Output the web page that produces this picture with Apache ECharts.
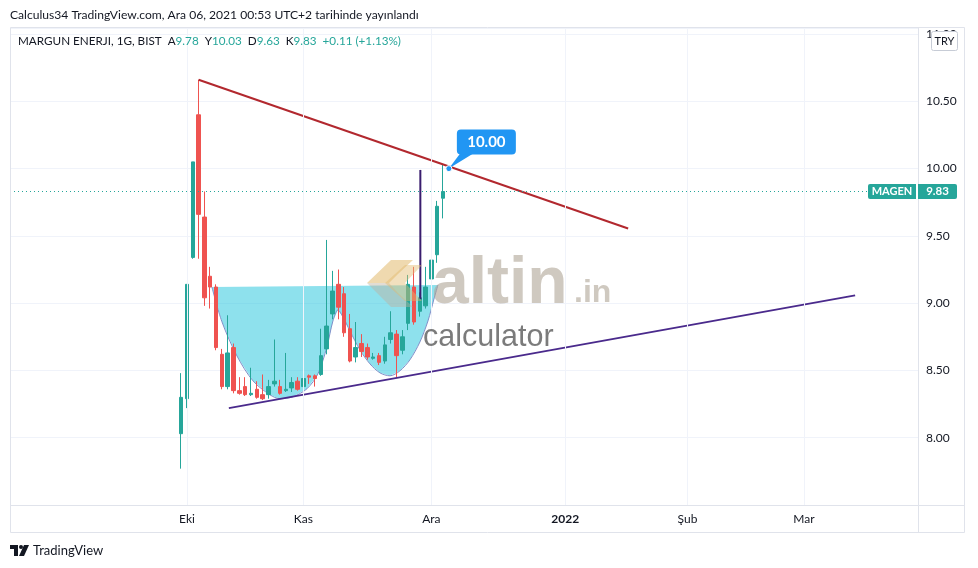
<!DOCTYPE html>
<html><head><meta charset="utf-8">
<script src="https://cdn.jsdelivr.net/npm/echarts@6/dist/echarts.min.js"></script>
<style>html,body{margin:0;padding:0;background:#fff}#c{width:978px;height:568px}</style>
</head><body><div id="c"></div>
<script>
// ---------- data ----------
const dates = ['2021-09-30','2021-10-01','2021-10-04','2021-10-05','2021-10-06','2021-10-07','2021-10-08','2021-10-11','2021-10-12','2021-10-13','2021-10-14','2021-10-15','2021-10-18','2021-10-19','2021-10-20','2021-10-21','2021-10-22','2021-10-25','2021-10-26','2021-10-27','2021-10-28','2021-11-01','2021-11-02','2021-11-03','2021-11-04','2021-11-05','2021-11-08','2021-11-09','2021-11-10','2021-11-11','2021-11-12','2021-11-15','2021-11-16','2021-11-17','2021-11-18','2021-11-19','2021-11-22','2021-11-23','2021-11-24','2021-11-25','2021-11-26','2021-11-29','2021-11-30','2021-12-01','2021-12-02','2021-12-03'];
const openV  = [8.03,8.29,9.34,10.40,9.64,9.20,9.12,8.62,8.38,8.67,8.35,8.38,8.32,8.36,8.32,8.32,8.40,8.38,8.35,8.37,8.42,8.38,8.46,8.46,8.47,8.66,8.92,9.14,9.07,8.81,8.60,8.70,8.67,8.59,8.61,8.57,8.73,8.77,8.65,8.85,9.12,8.94,8.98,9.18,9.36,9.78];
const closeV = [8.30,9.14,10.05,9.66,9.04,9.12,8.67,8.38,8.63,8.35,8.33,8.32,8.33,8.30,8.29,8.38,8.42,8.33,8.36,8.41,8.36,8.44,8.45,8.44,8.61,8.83,9.09,8.97,8.78,8.57,8.67,8.64,8.60,8.60,8.56,8.69,8.78,8.61,8.75,9.14,8.86,9.04,9.12,9.32,9.72,9.83];
const lowV   = [7.77,8.22,9.33,9.33,8.98,8.96,8.65,8.36,8.36,8.33,8.32,8.31,8.31,8.29,8.28,8.29,8.38,8.32,8.34,8.34,8.35,8.33,8.40,8.38,8.46,8.62,8.88,8.88,8.75,8.56,8.56,8.60,8.58,8.58,8.54,8.55,8.70,8.45,8.62,8.80,8.84,8.90,8.96,9.16,9.30,9.63];
const highV  = [8.48,9.14,10.05,10.66,9.83,9.27,9.14,8.66,8.91,8.70,8.45,8.45,8.52,8.42,8.47,8.43,8.73,8.43,8.63,8.45,8.45,8.52,8.47,8.47,8.81,9.47,9.24,9.25,9.12,8.92,8.86,8.77,8.70,8.63,8.63,8.75,8.94,8.80,8.80,9.21,9.27,9.08,9.27,9.39,9.76,10.03];
const holidays = ['2021-08-30','2021-10-29'];
const monthLabels = {'2021-10':'Eki','2021-11':'Kas','2021-12':'Ara','2022-01':'2022','2022-02':'Şub','2022-03':'Mar'};
const lastPrice = 9.83;
const symbolName = 'MAGEN';
// drawings: [bar position (0 = first candle), price]
const redTrend = [[3, 10.66], [76.8, 9.555]];
const purpleTrend = [[8.2, 8.22], [115.8, 9.058]];
const purpleVertical = [[41.1, 9.99], [41.1, 9.03]];
const cupCurve = [[5.29,9.12],[7.01,8.862],[9.59,8.608],[12.34,8.423],[15.26,8.319],[16.98,8.29],[19.21,8.304],[21.62,8.364],[23.51,8.475],[25.05,8.675],[26.08,8.868],[26.94,8.95],[27.8,8.898],[29.0,8.794],[30.72,8.653],[32.44,8.549],[34.16,8.482],[35.88,8.46],[37.59,8.497],[39.31,8.579],[41.03,8.712],[42.41,8.868],[43.44,9.031],[44.12,9.135]];
const noteAnchor = [46.0, 10.00];
const noteText = '10.00';

// ---------- trading calendar ----------
function fmt(d){return d.toISOString().slice(0,10);}
const cal = [];
for (let d = new Date(Date.UTC(2021,7,16)); d <= new Date(Date.UTC(2022,3,15)); d.setUTCDate(d.getUTCDate()+1)) {
  const wd = d.getUTCDay(); const s = fmt(d);
  if (wd !== 0 && wd !== 6 && holidays.indexOf(s) < 0) cal.push(s);
}
const base = cal.indexOf(dates[0]);
const pos = s => cal.indexOf(s) - base;
const monthTicks = []; const monthTickText = {};
let prevM = '';
cal.forEach(s => { const m = s.slice(0,7); if (m !== prevM) { prevM = m; if (monthLabels[m]) { monthTicks.push(pos(s)); monthTickText[pos(s)] = monthLabels[m]; } } });

const candleData = dates.map((s,i) => [pos(s), openV[i], closeV[i], lowV[i], highV[i]]);

const UP = '#26a69a', DOWN = '#ef5350';
const FONT = 'Lato';
const chart = echarts.init(document.getElementById('c'), null, {renderer:'canvas'});

const option = {
  animation: false,
  backgroundColor: '#ffffff',
  grid: {left: 10, right: 60, top: 28, bottom: 63, containLabel: false},
  xAxis: {
    type: 'value', min: -29.4, max: 126.6,
    axisLine: {show: false}, axisTick: {show: false}, splitLine: {show: false},
    axisLabel: {
      customValues: monthTicks, margin: 8, color: '#131722', fontFamily: FONT, fontSize: 12,
      formatter: v => { const t = monthTickText[Math.round(v)] || ''; return t === '2022' ? '{b|2022}' : t; },
      rich: {b: {fontWeight: 'bold', fontFamily: FONT, fontSize: 12, color: '#131722'}}
    }
  },
  yAxis: {
    type: 'value', position: 'right', min: 7.5, max: 11.045, interval: 0.5, scale: true,
    axisLine: {show: false}, axisTick: {show: false},
    splitLine: {lineStyle: {color: '#f0f3fa', width: 1}},
    axisLabel: {margin: 8, color: '#131722', fontFamily: FONT, fontSize: 12, showMinLabel: false,
      formatter: v => v.toFixed(2)}
  },
  series: [
    { // vertical month grid lines
      type: 'line', data: [], silent: true, z: 0,
      markLine: {silent: true, symbol: 'none', label: {show: false},
        lineStyle: {color: '#f0f3fa', type: 'solid', width: 1},
        data: monthTicks.map(v => ({xAxis: v}))}
    },
    { // cup fill
      type: 'custom', z: 1, silent: true, clip: true,
      data: [cupCurve[0]],
      renderItem: (params, api) => ({
        type: 'polygon',
        shape: {points: cupCurve.map(p => api.coord(p))},
        style: {fill: 'rgba(30,196,220,0.5)', stroke: null}
      })
    },
    { // cup outline
      type: 'line', data: cupCurve, symbol: 'none', smooth: 0.3, z: 2, silent: true,
      lineStyle: {color: '#7f8fc9', width: 1}
    },
    {
      type: 'candlestick', name: symbolName, z: 3, barWidth: 4,
      data: candleData, encode: {x: 0, y: [1,2,3,4]},
      itemStyle: {color: UP, color0: DOWN, borderColor: UP, borderColor0: DOWN, borderWidth: 1},
      markLine: {silent: true, symbol: 'none', label: {show: false},
        lineStyle: {color: UP, type: [1, 3], width: 1},
        data: [{yAxis: lastPrice}]}
    },
    {type: 'line', data: redTrend, symbol: 'none', z: 4, lineStyle: {color: '#b2282e', width: 2}},
    {type: 'line', data: purpleTrend, symbol: 'none', z: 4, lineStyle: {color: '#4a2a8c', width: 2}},
    {type: 'line', data: purpleVertical, symbol: 'none', z: 4, lineStyle: {color: '#3a1d6e', width: 2}},
    { // price note callout
      type: 'custom', z: 6, silent: true, clip: false,
      data: [noteAnchor],
      renderItem: (params, api) => {
        const p = api.coord(noteAnchor);
        const x = p[0], y = p[1];
        return {type: 'group', children: [
          {type: 'polygon', shape: {points: [[x+12, y-16], [x+26, y-16], [x, y]]}, style: {fill: '#2196f3'}},
          {type: 'rect', shape: {x: x+8, y: y-39, width: 59, height: 25, r: 4}, style: {fill: '#2196f3'}},
          {type: 'text', style: {text: noteText, x: x+37.5, y: y-26.5, align: 'center', verticalAlign: 'middle',
            fill: '#ffffff', font: 'bold 15px ' + FONT}},
          {type: 'circle', shape: {cx: x, cy: y, r: 3}, style: {fill: '#2196f3', stroke: '#ffffff', lineWidth: 1}}
        ]};
      }
    }
  ]
};
chart.setOption(option);

const py = chart.convertToPixel({yAxisIndex: 0}, lastPrice);
const g = [];
// frame
g.push({type:'rect', shape:{x:10.5, y:27.5, width:954, height:505}, style:{fill:null, stroke:'#e0e3eb', lineWidth:1}, z:50, silent:true});
g.push({type:'line', shape:{x1:918.5, y1:27, x2:918.5, y2:532}, style:{stroke:'#e0e3eb', lineWidth:1}, z:50});
g.push({type:'line', shape:{x1:10, y1:505.5, x2:964, y2:505.5}, style:{stroke:'#e0e3eb', lineWidth:1}, z:50});
// header
g.push({type:'text', x:10, y:15, style:{text:'Calculus34 TradingView.com, Ara 06, 2021 00:53 UTC+2 tarihinde yayınlandı', font:'12.1px '+FONT, fill:'#131722', verticalAlign:'middle'}, z:60});
g.push({type:'text', x:18, y:41, style:{
  text:'{d|MARGUN ENERJI, 1G, BIST}  {d|A}{g|9.78}  {d|Y}{g|10.03}  {d|D}{g|9.63}  {d|K}{g|9.83}  {g|+0.11 (+1.13%)}',
  font:'11.7px '+FONT, verticalAlign:'middle',
  rich:{d:{fill:'#131722', font:'11.7px '+FONT}, g:{fill:UP, font:'11.7px '+FONT}}}, z:60});
// TRY box
g.push({type:'rect', shape:{x:931.5, y:31.5, width:26, height:19, r:2}, style:{fill:'#ffffff', stroke:'#c7ccd6', lineWidth:1}, z:60});
g.push({type:'text', x:944.5, y:41.5, style:{text:'TRY', font:'11px '+FONT, fill:'#131722', align:'center', verticalAlign:'middle'}, z:61});
// last price labels
g.push({type:'rect', shape:{x:868, y:py-7.5, width:48, height:15, r:[2,0,0,2]}, style:{fill:UP}, z:60});
g.push({type:'text', x:892, y:py, style:{text:symbolName, font:'bold 11px '+FONT, fill:'#ffffff', align:'center', verticalAlign:'middle'}, z:61});
g.push({type:'rect', shape:{x:918, y:py-7.5, width:39, height:15, r:[0,2,2,0]}, style:{fill:UP}, z:60});
g.push({type:'text', x:937.5, y:py, style:{text:lastPrice.toFixed(2), font:'bold 11.5px '+FONT, fill:'#ffffff', align:'center', verticalAlign:'middle'}, z:61});
// watermark
g.push({type:'polygon', shape:{points:[[367,283],[391,260],[413,260],[398,274],[389,283]]}, style:{fill:'rgba(226,186,110,0.55)'}, z:40, silent:true});
g.push({type:'polygon', shape:{points:[[367,283],[389,283],[398,293],[413,307],[391,307]]}, style:{fill:'rgba(190,178,160,0.45)'}, z:40, silent:true});
g.push({type:'polygon', shape:{points:[[385,283],[405,265],[422,265],[405,283],[422,301],[405,301]]}, style:{fill:'rgba(226,186,110,0.45)'}, z:40, silent:true});
g.push({type:'text', x:432, y:252, style:{text:'altin', font:'bold 66px "Liberation Sans"', fill:'rgba(175,165,150,0.6)', verticalAlign:'top'}, z:40, silent:true});
g.push({type:'text', x:574, y:277, style:{text:'.in', font:'bold 32px "Liberation Sans"', fill:'rgba(175,165,150,0.6)', verticalAlign:'top'}, z:40, silent:true});
g.push({type:'text', x:423, y:322, style:{text:'calculator', font:'30.5px "Liberation Sans"', fill:'rgba(100,100,100,0.85)', verticalAlign:'top'}, z:40, silent:true});
// TradingView logo
g.push({type:'rect', shape:{x:10, y:545, width:8, height:4}, style:{fill:'#131722'}, z:60});
g.push({type:'rect', shape:{x:14, y:545, width:4, height:11}, style:{fill:'#131722'}, z:60});
g.push({type:'circle', shape:{cx:21, cy:547, r:2}, style:{fill:'#131722'}, z:60});
g.push({type:'polygon', shape:{points:[[24,545],[29,545],[24,556],[19,556]]}, style:{fill:'#131722'}, z:60});
g.push({type:'text', x:33, y:550.5, style:{text:'TradingView', font:'13px '+FONT, fill:'#131722', verticalAlign:'middle'}, z:60});
chart.setOption({graphic: g});
</script></body></html>
